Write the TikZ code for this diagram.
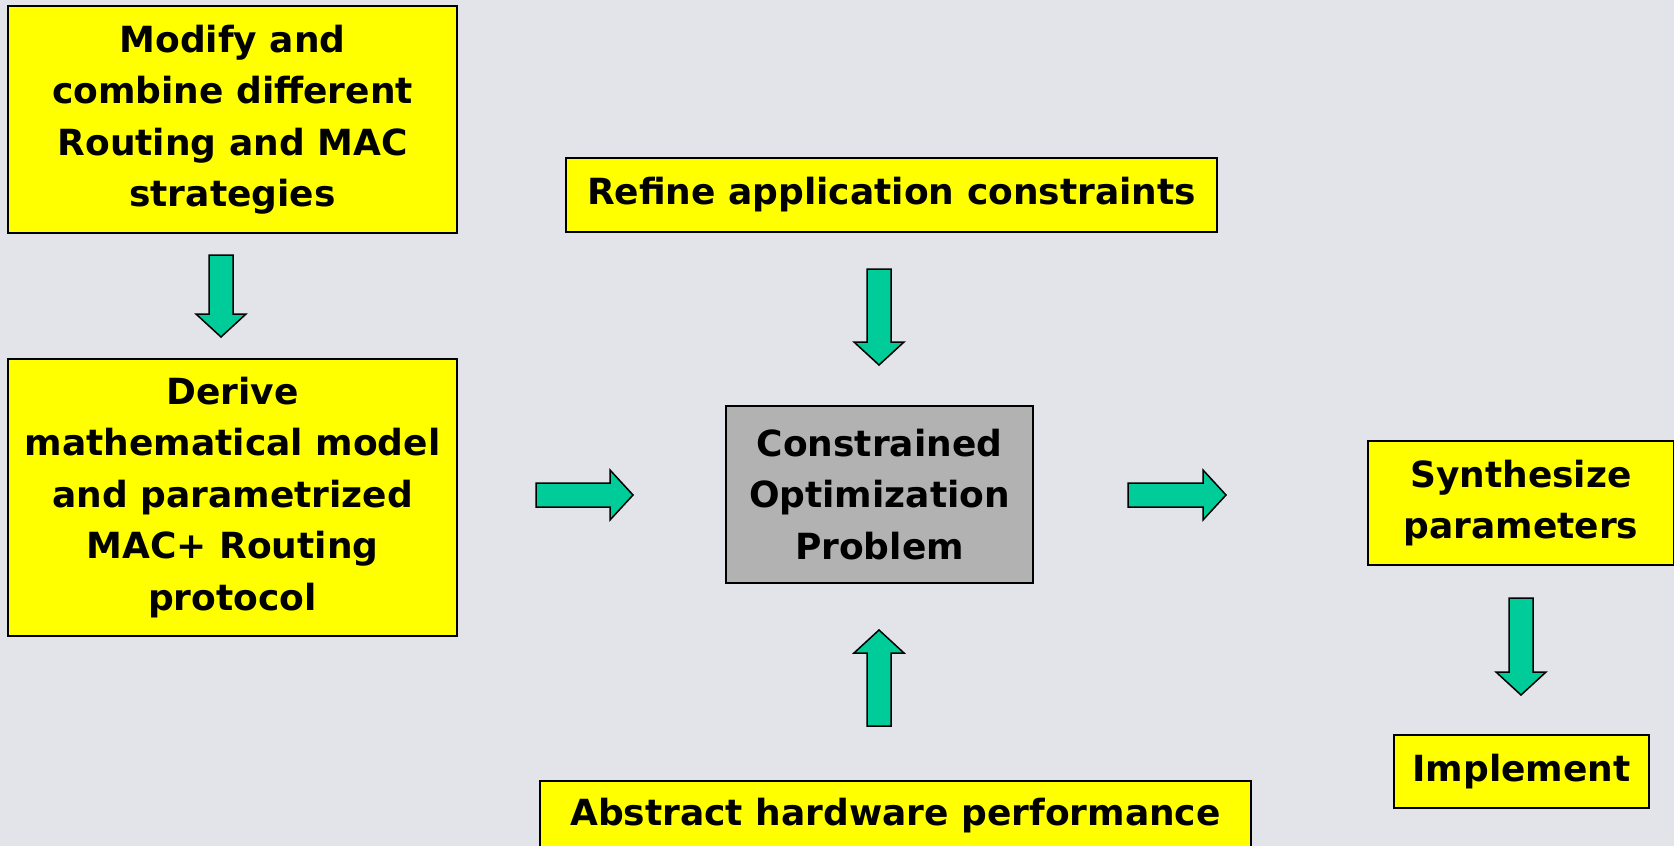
\documentclass[tikz,border=0pt]{standalone}
\usepackage{fontspec}
\setmainfont{DejaVu Sans}
\definecolor{bgc}{HTML}{E2E4EA}
\definecolor{boxyellow}{HTML}{FFFF00}
\definecolor{boxgray}{HTML}{B2B2B2}
\definecolor{arrowgreen}{HTML}{00CC99}
\begin{document}
\begin{tikzpicture}[x=1pt,y=-1pt,
  box/.style={draw=black, line width=1.5pt, fill=boxyellow, align=center, inner sep=0pt,
    font=\fontsize{36}{51.5}\selectfont\bfseries},
  graybox/.style={box, fill=boxgray},
  arrowline/.style={draw=black, line width=1.5pt, fill=arrowgreen, line join=miter},
  pics/blockarrow/.style={code={
    \draw[arrowline] (0,-12) -- (#1-23,-12) -- (#1-23,-25) -- (#1,0) -- (#1-23,25) -- (#1-23,12) -- (0,12) -- cycle;}}
]
\fill[bgc] (0,0) rectangle (1674,846);
\useasboundingbox (0,0) rectangle (1674,846);

\node[box, minimum width=449pt, minimum height=227pt] (mod) at (232.5,119.5)
  {Modify and\\combine different\\Routing and MAC\\strategies};
\node[box, minimum width=449pt, minimum height=277pt] (der) at (232.5,497.5)
  {Derive\\mathematical model\\and parametrized\\MAC+ Routing\\protocol};
\node[box, minimum width=651pt, minimum height=74pt] (ref) at (891.5,195)
  {Refine application constraints};
\node[graybox, minimum width=307pt, minimum height=177pt] (con) at (879.5,494.5)
  {Constrained\\Optimization\\Problem};
\node[box, minimum width=711pt, minimum height=70pt] (abs) at (895.5,816)
  {Abstract hardware performance};
\node[box, minimum width=306pt, minimum height=124pt] (syn) at (1521,503)
  {Synthesize\\parameters};
\node[box, minimum width=255pt, minimum height=73pt] (imp) at (1521.5,771.5)
  {Implement};

\pic[rotate=-90] at (221,255) {blockarrow=82};
\pic[rotate=-90] at (879,269) {blockarrow=96};
\pic[rotate=90] at (879,726) {blockarrow=96};
\pic at (536,495) {blockarrow=97};
\pic at (1128,495) {blockarrow=98};
\pic[rotate=-90] at (1521,598) {blockarrow=97};
\end{tikzpicture}
\end{document}
